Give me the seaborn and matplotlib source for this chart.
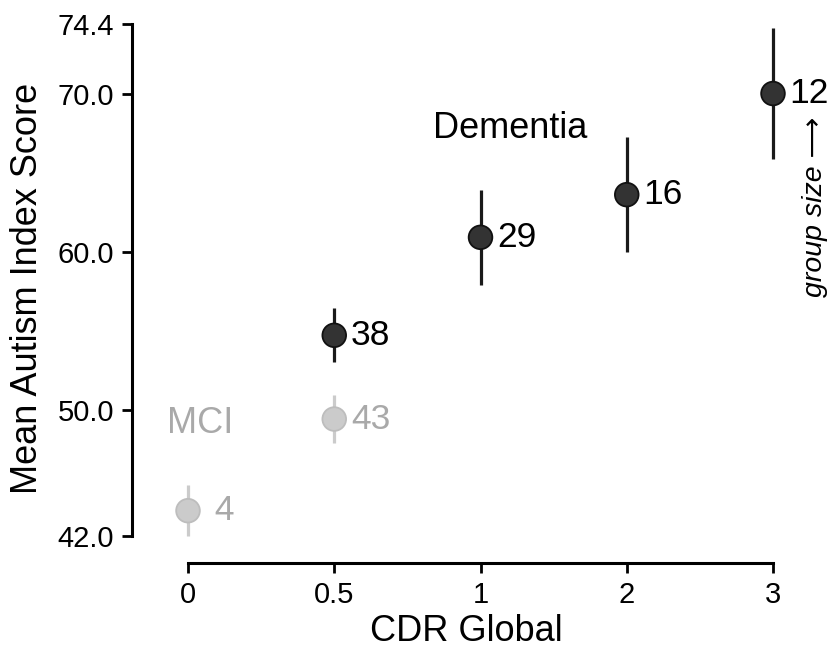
"""
Mean Autism Index Score by CDR Global, MCI vs dementia groups
"""

import numpy as np
import pandas as pd
import matplotlib
matplotlib.use('Agg')
import matplotlib.pyplot as plt
import seaborn as sns

# x categories (evenly spaced on the axis)
cdr_levels = ['0', '0.5', '1', '2', '3']

# MCI group
mci_cdr = ['0', '0.5']
mci_mean = [43.6, 49.4]
mci_err = [1.6, 1.5]
mci_n = [4, 43]

# Dementia group
dem_cdr = ['0.5', '1', '2', '3']
dem_mean = [54.7, 60.9, 63.6, 70.0]
dem_err = [1.7, 3.0, 3.65, 4.15]
dem_n = [38, 29, 16, 12]

y_ticks = [42.0, 50.0, 60.0, 70.0, 74.4]

DARK = '#333333'
DARK_LINE = '#1a1a1a'
LIGHT = '#cbcbcb'
LIGHT_TEXT = '#a9a9a9'


def build_frame():
    rows = []
    for c, m, e, n in zip(mci_cdr, mci_mean, mci_err, mci_n):
        rows.append(('MCI', c, m, e, n))
    for c, m, e, n in zip(dem_cdr, dem_mean, dem_err, dem_n):
        rows.append(('Dementia', c, m, e, n))
    df = pd.DataFrame(rows, columns=['group', 'cdr', 'mean', 'err', 'n'])
    df['pos'] = df['cdr'].map({c: i for i, c in enumerate(cdr_levels)})
    return df


sns.set_theme(style='ticks')
plt.rcParams['font.family'] = ['Liberation Sans', 'DejaVu Sans']

df = build_frame()

# pixel layout of the reference
px_x = 146.25   # px per category step
px_y = 15.802   # px per score unit
x_lo, x_hi = -0.5, 4.3
y_lo, y_hi = 39.5, 75.8
left_px = 188 - (0 - x_lo) * px_x
top_px = 24 - (y_hi - 74.4) * px_y
w_px = (x_hi - x_lo) * px_x
h_px = (y_hi - y_lo) * px_y

fig = plt.figure(figsize=(8.33, 6.5), dpi=100)
ax = fig.add_axes([left_px / 833, (650 - top_px - h_px) / 650, w_px / 833, h_px / 650])

colors = {'MCI': LIGHT, 'Dementia': DARK}
lines = {'MCI': LIGHT, 'Dementia': DARK_LINE}

for g, sub in df.groupby('group'):
    ax.errorbar(sub['pos'], sub['mean'], yerr=sub['err'], fmt='none',
                ecolor=lines[g], elinewidth=2.3, capsize=0, zorder=2)

sns.scatterplot(data=df, x='pos', y='mean', hue='group', palette=colors,
                s=290, linewidth=1.3, legend=False, ax=ax, zorder=3)
ax.collections[-1].set_edgecolor([('#bdbdbd' if g == 'MCI' else '#111111') for g in df['group']])

# group size labels
for _, r in df.iterrows():
    txt = f' {r["n"]}' if r['n'] < 10 else f'{r["n"]}'
    col = LIGHT_TEXT if r['group'] == 'MCI' else 'black'
    ax.annotate(txt, (r['pos'], r['mean']), xytext=(12, 0),
                textcoords='offset points', ha='left', va='center',
                fontsize=25.5, color=col)

ax.text(2.20, 67.8, 'Dementia', fontsize=26, ha='center', va='center', color='black')
ax.text(0.08, 49.1, 'MCI', fontsize=26, ha='center', va='center', color=LIGHT_TEXT)
ax.text(4.285, 62.85, 'group size \u27f6', fontsize=20.5, style='italic',
        rotation=90, ha='center', va='center', color='black',
        family=['Liberation Sans', 'DejaVu Sans'])

ax.set_xlim(x_lo, x_hi)
ax.set_ylim(y_lo, y_hi)
ax.set_xticks(range(len(cdr_levels)))
ax.set_xticklabels(cdr_levels)
ax.set_yticks(y_ticks)
ax.set_yticklabels([f'{t:.1f}' for t in y_ticks])

# detached spines like the reference
for s in ['top', 'right']:
    ax.spines[s].set_visible(False)
ax.spines['left'].set_position(('data', (132 - 188) / px_x))
ax.spines['bottom'].set_position(('data', 42 - 27 / px_y))
ax.spines['left'].set_bounds(42, 74.4)
ax.spines['bottom'].set_bounds(0, 4)
for s in ['left', 'bottom']:
    ax.spines[s].set_linewidth(2.2)
    ax.spines[s].set_color('black')

ax.tick_params(axis='both', length=7, width=2, color='black', labelsize=21,
               labelcolor='black', pad=6)

ax.set_xlabel('CDR Global', fontsize=26, color='black')
ax.set_ylabel('Mean Autism Index Score', fontsize=26, color='black')
ax.xaxis.set_label_coords(0.5, (top_px + h_px - 614) / h_px)
ax.yaxis.set_label_coords((45 - left_px) / w_px, 0.5)

fig.savefig('out.png', dpi=100)
